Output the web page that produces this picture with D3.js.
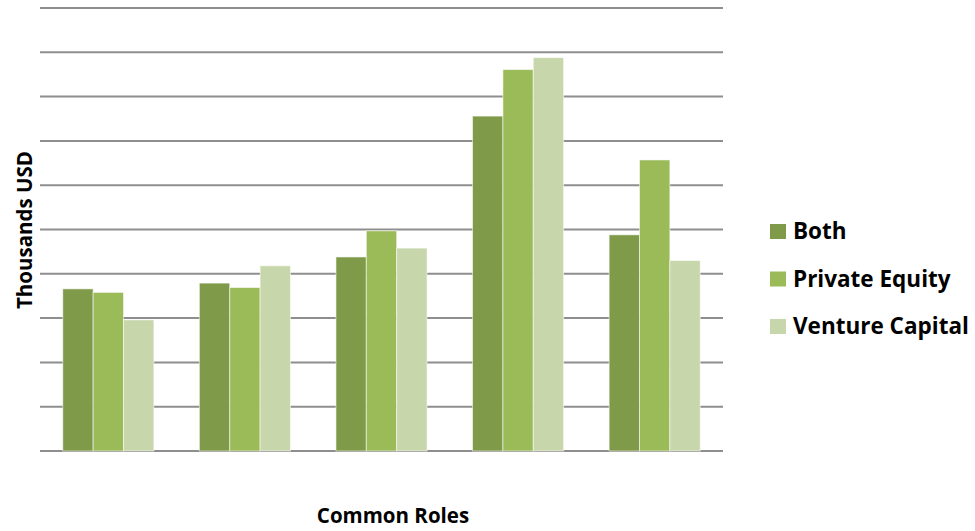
<!DOCTYPE html>
<html>
<head>
<meta charset="utf-8">
<script src="https://cdn.jsdelivr.net/npm/d3@7"></script>
<style>
  html, body { margin: 0; padding: 0; background: #fff; }
  text { font-family: "Open Sans", Lato, sans-serif; font-weight: bold; fill: #000; }
</style>
</head>
<body>
<svg id="chart" width="975" height="531"></svg>
<script>
// Average compensation by common role (in gridline units, thousands USD)
const categories = ["Role 1", "Role 2", "Role 3", "Role 4", "Role 5"];
const seriesNames = ["Both", "Private Equity", "Venture Capital"];
const both           = [3.66, 3.79, 4.38, 7.56, 4.88];
const privateEquity  = [3.58, 3.69, 4.97, 8.61, 6.57];
const ventureCapital = [2.96, 4.18, 4.58, 8.88, 4.30];
const gridTicks = [0, 1, 2, 3, 4, 5, 6, 7, 8, 9, 10];
const colors = ["#7f9b4a", "#9bbb59", "#c7d6ab"];

const seriesValues = [both, privateEquity, ventureCapital];

const svg = d3.select("#chart");
const plot = { left: 40, right: 723, top: 8, bottom: 451 };

const x0 = d3.scaleBand().domain(categories)
  .range([plot.left, plot.right]).paddingInner(0.333).paddingOuter(0.1667);
const x1 = d3.scaleBand().domain(seriesNames).range([0, x0.bandwidth()]);
const y = d3.scaleLinear().domain([0, 10]).range([plot.bottom, plot.top]);

// horizontal gridlines
svg.append("g").selectAll("line").data(gridTicks).join("line")
  .attr("x1", plot.left).attr("x2", plot.right)
  .attr("y1", d => y(d)).attr("y2", d => y(d))
  .attr("stroke", "#8e8e8e").attr("stroke-width", 2);

// grouped bars
const groups = svg.append("g").selectAll("g").data(categories).join("g")
  .attr("transform", c => `translate(${x0(c)},0)`);
groups.selectAll("rect")
  .data((c, i) => seriesNames.map((s, j) => ({ s, j, v: seriesValues[j][i] })))
  .join("rect")
  .attr("x", d => x1(d.s))
  .attr("width", x1.bandwidth())
  .attr("y", d => y(d.v))
  .attr("height", d => y(0) - y(d.v))
  .attr("fill", d => colors[d.j])
  .attr("stroke", "rgba(255,255,255,0.55)")
  .attr("stroke-width", 1);

// axis titles
svg.append("text")
  .attr("transform", "translate(32,230) rotate(-90)")
  .attr("text-anchor", "middle")
  .style("font-size", "20.5px")
  .text("Thousands USD");

svg.append("text")
  .attr("x", 393).attr("y", 523)
  .attr("text-anchor", "middle")
  .style("font-size", "20.5px")
  .text("Common Roles");

// legend
const legend = svg.append("g").selectAll("g").data(seriesNames).join("g")
  .attr("transform", (d, i) => `translate(770,${224 + i * 47.5})`);
legend.append("rect")
  .attr("width", 16).attr("height", 15)
  .attr("fill", (d, i) => colors[i]);
legend.append("text")
  .attr("x", 23).attr("y", 15)
  .style("font-size", "22.5px")
  .text(d => d);
</script>
</body>
</html>
